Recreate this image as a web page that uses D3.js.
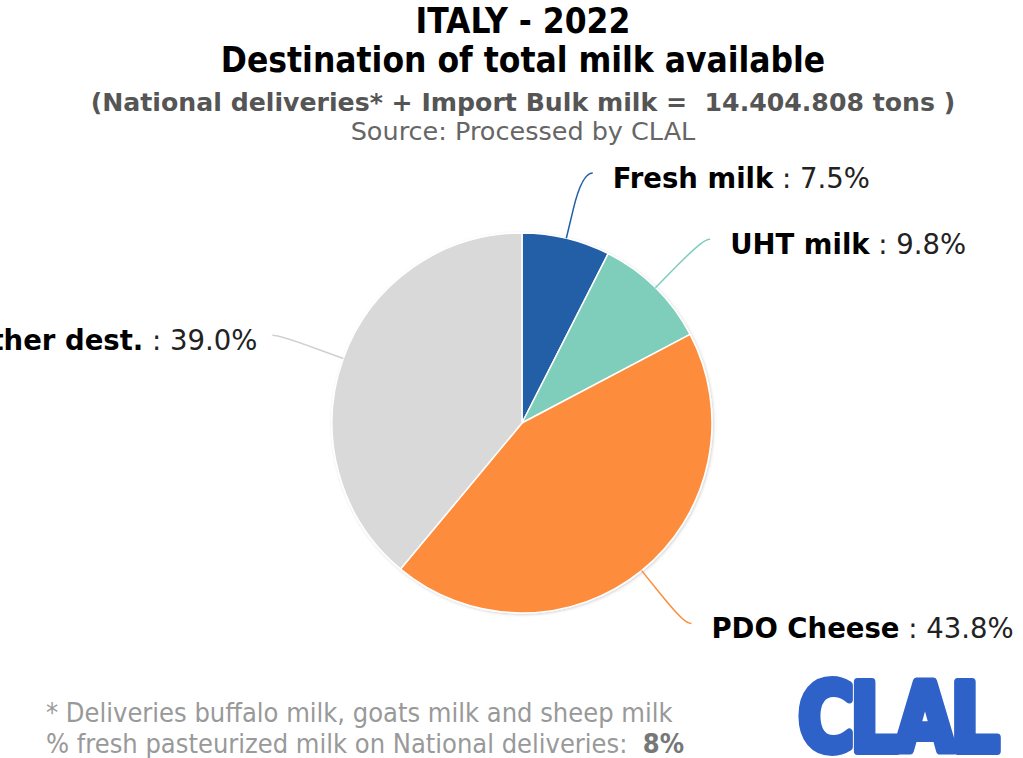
<!DOCTYPE html>
<html>
<head>
<meta charset="utf-8">
<script src="https://cdn.jsdelivr.net/npm/d3@7"></script>
<style>
  html, body { margin: 0; padding: 0; background: #fff; }
  svg { display: block; }
  text { white-space: pre; }
</style>
</head>
<body>
<svg id="chart" width="1023" height="758"></svg>
<script>
// Destination of total milk available, Italy 2022 (shares in %)
const categories = ["Fresh milk", "UHT milk", "PDO Cheese", "Other dest."];
const shares = [7.5, 9.8, 43.8, 39.0];
const palette = ["#215ea7", "#7fcdbb", "#fd8d3c", "#d9d9d9"];
const connectorColors = ["#215ea7", "#7fcdbb", "#fd8d3c", "#d0d0d0"];

const titleLines = ["ITALY - 2022", "Destination of total milk available"];
const subtitle = "(National deliveries* + Import Bulk milk =  14.404.808 tons )";
const sourceLine = "Source: Processed by CLAL";
const footnote1 = "* Deliveries buffalo milk, goats milk and sheep milk";
const footnote2 = "% fresh pasteurized milk on National deliveries:  ";
const footnoteValue = "8%";

const svg = d3.select("#chart");

// soft shadow under the pie
const defs = svg.append("defs");
const f = defs.append("filter").attr("id", "pieShadow")
  .attr("x", "-10%").attr("y", "-10%").attr("width", "120%").attr("height", "120%");
f.append("feDropShadow").attr("dx", 1).attr("dy", 1).attr("stdDeviation", 1.5)
  .attr("flood-color", "#000").attr("flood-opacity", 0.18);

// titles
const titleFont = "'DejaVu Sans Condensed', 'DejaVu Sans', sans-serif";
const wideFont = "'DejaVu Sans', Verdana, sans-serif";
svg.append("text").attr("x", 523).attr("y", 33).attr("text-anchor", "middle")
  .attr("font-family", titleFont).attr("font-weight", "bold").attr("font-size", 35)
  .attr("fill", "#000").text(titleLines[0]);
svg.append("text").attr("x", 523).attr("y", 72).attr("text-anchor", "middle")
  .attr("font-family", titleFont).attr("font-weight", "bold").attr("font-size", 35)
  .attr("fill", "#000").text(titleLines[1]);
svg.append("text").attr("x", 523).attr("y", 111).attr("text-anchor", "middle")
  .attr("font-family", wideFont).attr("font-weight", "bold").attr("font-size", 25.2)
  .attr("fill", "#555").text(subtitle);
svg.append("text").attr("x", 523).attr("y", 140).attr("text-anchor", "middle")
  .attr("font-family", wideFont).attr("font-size", 25.5)
  .attr("fill", "#666").text(sourceLine);

// pie
const cx = 522, cy = 423, r = 190;
const pie = d3.pie().sort(null).value(d => d);
const arcs = pie(shares);
const arc = d3.arc().innerRadius(0).outerRadius(r);

const g = svg.append("g").attr("transform", `translate(${cx},${cy})`);
g.append("g").attr("filter", "url(#pieShadow)")
  .selectAll("path").data(arcs).join("path")
  .attr("d", arc)
  .attr("fill", (d, i) => palette[i])
  .attr("stroke", "#fff").attr("stroke-width", 1.5).attr("stroke-linejoin", "round");

// data labels with soft connectors
const labelRadius = r + 68, breakRadius = r + 30, labelTop = -250, labelPush = 7;
const polar = (rad, a) => [Math.sin(a) * rad, -Math.cos(a) * rad];

arcs.forEach((d, i) => {
  const a = (d.startAngle + d.endAngle) / 2;
  const right = Math.sin(a) >= 0;
  const s = right ? 1 : -1;
  const [ex, ey] = polar(r, a);
  const [bx, by] = polar(breakRadius, a);
  const ly = Math.max(labelTop, -Math.cos(a) * labelRadius);
  const lx = s * (Math.sqrt(labelRadius * labelRadius - ly * ly) + labelPush);
  const path = `M${lx},${ly} C${lx - s * 5},${ly} ${2 * bx - ex},${2 * by - ey} ${bx},${by} L${ex},${ey}`;
  g.append("path").attr("d", path).attr("fill", "none")
    .attr("stroke", connectorColors[i]).attr("stroke-width", 1.5);

  const t = g.append("text")
    .attr("x", lx + (right ? 20 : -15)).attr("y", ly + 15)
    .attr("text-anchor", right ? "start" : "end")
    .attr("font-family", wideFont).attr("font-size", 27.5).attr("fill", "#000");
  t.append("tspan").attr("font-weight", "bold").text(categories[i]);
  t.append("tspan").attr("fill", "#222").text(" : " + d3.format(".1f")(d.data) + "%");
});

// footnotes
svg.append("text").attr("x", 46).attr("y", 722)
  .attr("font-family", titleFont).attr("font-size", 27).attr("fill", "#999")
  .text(footnote1);
const fn2 = svg.append("text").attr("x", 46).attr("y", 753)
  .attr("font-family", titleFont).attr("font-size", 27).attr("fill", "#999");
fn2.append("tspan").text(footnote2);
fn2.append("tspan").attr("font-weight", "bold").attr("fill", "#777").text(footnoteValue);

// CLAL logo
svg.append("g").attr("transform", "translate(897,751) scale(0.9,1)")
  .append("text").attr("x", 0).attr("y", 0).attr("text-anchor", "middle")
  .attr("font-family", titleFont)
  .attr("font-weight", "bold").attr("font-size", 94)
  .attr("fill", "#2f62c8").attr("stroke", "#2f62c8").attr("stroke-width", 8)
  .attr("stroke-linejoin", "round").attr("letter-spacing", -4)
  .text("CLAL");
</script>
</body>
</html>
